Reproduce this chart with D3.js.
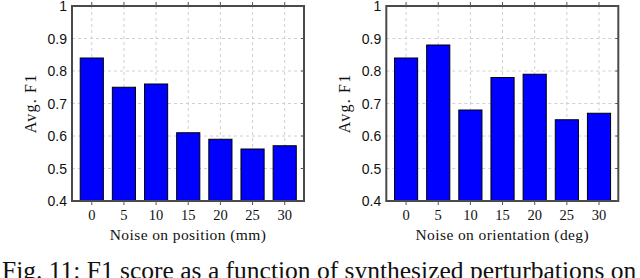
<!DOCTYPE html>
<html>
<head>
<meta charset="utf-8">
<script src="https://cdn.jsdelivr.net/npm/d3@7"></script>
<style>
html,body{margin:0;padding:0;background:#fff;}
svg{display:block;}
</style>
</head>
<body>
<svg id="chart" width="640" height="278"></svg>
<script>
const categories = ["0","5","10","15","20","25","30"];
const positionF1 = [0.84, 0.75, 0.76, 0.61, 0.59, 0.56, 0.57];
const orientationF1 = [0.84, 0.88, 0.68, 0.78, 0.79, 0.65, 0.67];
const yTicks = [0.4, 0.5, 0.6, 0.7, 0.8, 0.9, 1];
const yTickLabels = ["0.4","0.5","0.6","0.7","0.8","0.9","1"];
const xLabels = ["Noise on position (mm)", "Noise on orientation (deg)"];
const yLabel = "Avg. F1";
const caption = "Fig. 11: F1 score as a function of synthesized perturbations on";

const svg = d3.select("#chart");
const serif = "'Liberation Serif', 'DejaVu Serif', serif";
const sans = "'Liberation Sans', 'DejaVu Sans', sans-serif";

function panel(left, values, xLabel) {
  const width = 232, top = 6, bottom = 201;
  const g = svg.append("g");
  const x = d3.scaleLinear().domain([-0.615, 6.6]).range([left, left + width]);
  const y = d3.scaleLinear().domain([0.4, 1]).range([bottom, top]);
  const bw = 0.72;

  // grid
  g.selectAll("line.gx").data(categories).enter().append("line")
    .attr("x1", (d,i) => x(i)).attr("x2", (d,i) => x(i))
    .attr("y1", top).attr("y2", bottom)
    .attr("stroke", "#d0d0d0").attr("stroke-width", 1).attr("stroke-dasharray", "3,3");
  g.selectAll("line.gy").data(yTicks.slice(1, -1)).enter().append("line")
    .attr("x1", left).attr("x2", left + width)
    .attr("y1", d => y(d)).attr("y2", d => y(d))
    .attr("stroke", "#d0d0d0").attr("stroke-width", 1).attr("stroke-dasharray", "3,3");

  // bars
  g.selectAll("rect.bar").data(values).enter().append("rect")
    .attr("x", (d,i) => x(i - bw/2))
    .attr("width", (d,i) => x(i + bw/2) - x(i - bw/2))
    .attr("y", d => y(d))
    .attr("height", d => y(0.4) - y(d))
    .attr("fill", "#0000ff").attr("stroke", "#000").attr("stroke-width", 1);

  // frame
  g.append("rect").attr("x", left).attr("y", top).attr("width", width).attr("height", bottom - top)
    .attr("fill", "none").attr("stroke", "#4a4a4a").attr("stroke-width", 2);

  // x ticks (outward, top & bottom)
  categories.forEach((c, i) => {
    g.append("line").attr("x1", x(i)).attr("x2", x(i)).attr("y1", top - 4).attr("y2", top)
      .attr("stroke", "#555").attr("stroke-width", 1);
    g.append("line").attr("x1", x(i)).attr("x2", x(i)).attr("y1", bottom).attr("y2", bottom + 4)
      .attr("stroke", "#555").attr("stroke-width", 1);
  });
  // y ticks
  yTicks.forEach(t => {
    g.append("line").attr("x1", left + width - 3).attr("x2", left + width).attr("y1", y(t)).attr("y2", y(t))
      .attr("stroke", "#555").attr("stroke-width", 1);
  });

  // x tick labels
  g.selectAll("text.xt").data(categories).enter().append("text")
    .attr("x", (d,i) => x(i)).attr("y", 220)
    .attr("text-anchor", "middle").attr("font-family", serif).attr("font-size", 14.5)
    .attr("fill", "#111").text(d => d);
  // y tick labels
  g.selectAll("text.yt").data(yTicks).enter().append("text")
    .attr("x", left - 5).attr("y", d => y(d) + 5)
    .attr("text-anchor", "end").attr("font-family", sans).attr("font-size", 14)
    .attr("fill", "#111").text((d,i) => yTickLabels[i]);

  // x label
  g.append("text").attr("x", left + width/2).attr("y", 240)
    .attr("text-anchor", "middle").attr("font-family", serif).attr("font-size", 15.5)
    .attr("letter-spacing", 0.4)
    .attr("fill", "#111").text(xLabel);
  // y label
  g.append("text").attr("transform", `translate(${left - 36},${(top + bottom)/2}) rotate(-90)`)
    .attr("text-anchor", "middle").attr("font-family", serif).attr("font-size", 16)
    .attr("letter-spacing", 1.2)
    .attr("fill", "#111").text(yLabel);
}

panel(72, positionF1, xLabels[0]);
panel(386.3, orientationF1, xLabels[1]);

svg.append("text").attr("x", 2).attr("y", 279)
  .attr("font-family", serif).attr("font-size", 25.5).attr("fill", "#111")
  .text(caption);
</script>
</body>
</html>
